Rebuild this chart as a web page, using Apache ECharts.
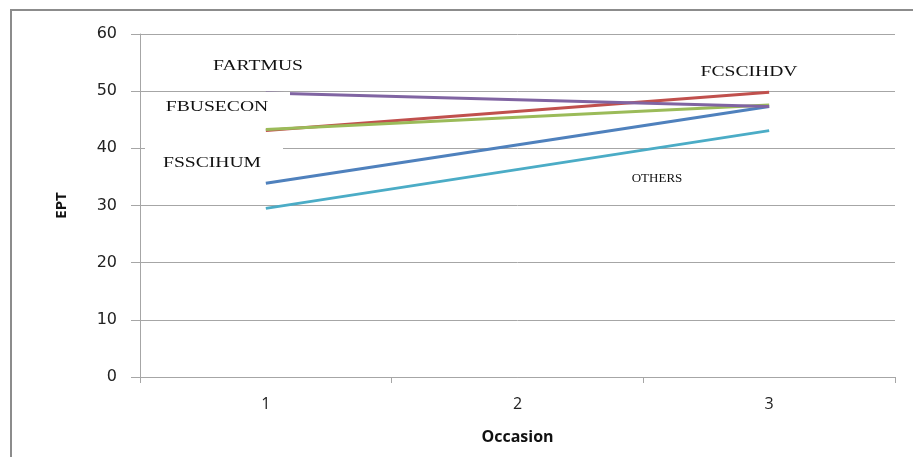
<!DOCTYPE html>
<html>
<head>
<meta charset="utf-8">
<script src="https://cdn.jsdelivr.net/npm/echarts@6/dist/echarts.min.js"></script>
<style>html,body{margin:0;padding:0;background:#fff}#c{width:913px;height:457px}</style>
</head>
<body>
<div id="c"></div>
<script>
var categories = ['1', '2', '3'];
var yTicks = [0, 10, 20, 30, 40, 50, 60];
var seriesNames = ['OTHERS', 'FSSCIHUM', 'FCSCIHDV', 'FBUSECON', 'FARTMUS'];
var othersVals   = [29.5, null, 43.1];
var fsscihumVals = [33.9, null, 47.3];
var fcscihdvVals = [43.1, null, 49.8];
var fbuseconVals = [43.3, null, 47.6];
var fartmusVals  = [49.7, null, 47.3];
var colors = ['#4BACC6', '#4F81BD', '#C0504D', '#9BBB59', '#8064A2'];
var allVals = [othersVals, fsscihumVals, fcscihdvVals, fbuseconVals, fartmusVals];

var chart = echarts.init(document.getElementById('c'), null, {renderer: 'canvas'});
var gridColor = '#a6a6a6';

function label(text, x, y, size, sx) {
  return {
    type: 'text', x: x, y: y, scaleX: sx, z: 101,
    style: { text: text, x: 0, y: 0, align: 'center', verticalAlign: 'middle',
      font: size + 'px "Liberation Serif"', fill: '#111' }
  };
}
function whiteBox(x1, y1, x2, y2) {
  return { type: 'rect', z: 100, shape: {x: x1, y: y1, width: x2 - x1, height: y2 - y1},
    style: { fill: '#fff', stroke: null } };
}

var option = {
  animation: false,
  backgroundColor: '#fff',
  grid: { left: 140, right: 18, top: 34, bottom: 80, containLabel: false },
  xAxis: {
    type: 'category', data: categories, boundaryGap: true,
    name: 'Occasion', nameLocation: 'middle', nameGap: 52,
    nameTextStyle: { fontFamily: 'Open Sans', fontWeight: 'bold', fontSize: 16, color: '#111' },
    axisLine: { show: true, lineStyle: { color: gridColor, width: 1 } },
    axisTick: { show: true, length: 6, lineStyle: { color: gridColor } },
    axisLabel: { margin: 19, fontFamily: 'Open Sans', fontSize: 16, color: '#222' },
    splitLine: { show: false }
  },
  yAxis: {
    type: 'value', min: yTicks[0], max: yTicks[yTicks.length - 1], interval: 10,
    name: 'EPT', nameLocation: 'middle', nameGap: 71, nameRotate: 90,
    nameTextStyle: { fontFamily: 'Open Sans', fontWeight: 'bold', fontSize: 15, color: '#111' },
    axisLine: { show: true, lineStyle: { color: gridColor, width: 1 } },
    axisTick: { show: true, length: 9, inside: false, lineStyle: { color: gridColor } },
    axisLabel: { margin: 23, fontFamily: 'DejaVu Sans', fontSize: 16, color: '#222' },
    splitLine: { show: true, lineStyle: { color: gridColor, width: 1 } }
  },
  series: seriesNames.map(function (n, i) {
    return {
      name: n, type: 'line', data: allVals[i], connectNulls: true,
      showSymbol: false, symbol: 'none',
      lineStyle: { color: colors[i], width: 3 }, itemStyle: { color: colors[i] }
    };
  }),
  graphic: [
    { type: 'polyline', z: 102, shape: { points: [[11, 457], [11, 10], [913, 10]] },
      style: { stroke: '#8c8c8c', lineWidth: 2, fill: null } },
    whiteBox(142, 92, 290, 126),
    whiteBox(145, 141, 283, 176),
    label('FARTMUS', 258, 66, 14, 1.4),
    label('FCSCIHDV', 749, 72, 14, 1.4),
    label('FBUSECON', 217, 107, 14, 1.4),
    label('FSSCIHUM', 212, 163, 14, 1.4),
    label('OTHERS', 657, 179, 13, 1)
  ]
};
chart.setOption(option);
</script>
</body>
</html>
